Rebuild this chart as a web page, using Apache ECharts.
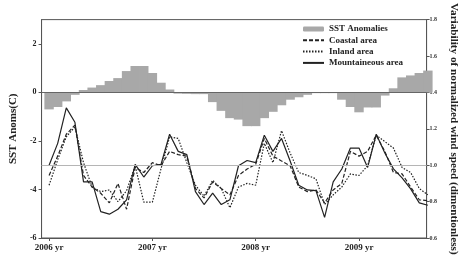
<!DOCTYPE html>
<html>
<head>
<meta charset="utf-8">
<script src="https://cdn.jsdelivr.net/npm/echarts@6/dist/echarts.min.js"></script>
<style>
  html, body { margin: 0; padding: 0; background: #fff; }
  #chart { width: 467px; height: 256px; }
</style>
</head>
<body>
<div id="chart"></div>
<script>
// month index from Jan 2006
const months = [0, 1, 2, 3, 4, 5, 6, 7, 8, 9, 10, 11, 12, 13, 14, 15, 16, 17, 18, 19, 20, 21, 22,
  23, 24, 25, 26, 27, 28, 29, 30, 31, 32, 33, 34, 35, 36, 37, 38, 39, 40, 41, 42, 43, 44]

const yearTicks = [0, 12, 24, 36]
const yearLabels = ['2006 yr', '2007 yr', '2008 yr', '2009 yr']
const sstTicks = [-6, -4, -2, 0, 2]
const windTicks = [0.6, 0.8, 1.0, 1.2, 1.4, 1.6, 1.8]

// SST anomalies (C), left axis
const sstAnoms = [-0.70, -0.60, -0.37, -0.10, 0.10, 0.20, 0.30, 0.47, 0.59, 0.88, 1.09, 1.09,
  0.80, 0.40, 0.12, -0.05, -0.06, -0.07, -0.07, -0.40, -0.76, -1.06, -1.12, -1.39,
  -1.39, -1.06, -0.80, -0.53, -0.30, -0.20, -0.10, -0.03, -0.03, -0.03, -0.30, -0.60,
  -0.82, -0.62, -0.62, -0.13, 0.17, 0.62, 0.70, 0.80, 0.90]

// normalized wind speed variability, right axis
const coastal = [0.944, 1.05, 1.17, 1.22, 0.944, 0.88, 0.846, 0.793, 0.90, 0.758, 0.988, 0.96,
  1.014, 0.997, 1.076, 1.058, 1.05, 0.872, 0.82, 0.908, 0.872, 0.837, 0.944, 0.979,
  1.005, 1.147, 1.05, 1.023, 0.997, 0.88, 0.855, 0.864, 0.793, 0.864, 0.90, 1.076,
  1.05, 1.076, 1.165, 1.076, 0.96, 0.952, 0.88, 0.81, 0.805]

const inland = [0.89, 1.03, 1.156, 1.21, 1.014, 0.88, 0.855, 0.864, 0.80, 0.86, 0.997, 0.797,
  0.797, 0.98, 1.156, 1.147, 1.014, 0.89, 0.83, 0.917, 0.872, 0.766, 0.88, 0.90,
  0.89, 1.12, 1.014, 1.19, 1.067, 0.96, 0.944, 0.925, 0.784, 0.837, 0.88, 0.952,
  0.944, 0.997, 1.165, 1.13, 1.094, 0.988, 0.96, 0.872, 0.837]

const mountain = [1.00, 1.12, 1.315, 1.236, 0.908, 0.908, 0.745, 0.731, 0.758, 0.81, 1.005, 0.935,
  0.997, 1.005, 1.17, 1.076, 1.058, 0.855, 0.784, 0.846, 0.784, 0.81, 0.997, 1.026,
  1.014, 1.165, 1.076, 1.147, 1.023, 0.89, 0.864, 0.86, 0.713, 0.908, 0.979, 1.094,
  1.094, 0.988, 1.17, 1.067, 0.98, 0.93, 0.87, 0.793, 0.78]

const serif = '"Liberation Serif", "DejaVu Serif", serif'
const axisColor = '#555'

const pair = (vals) => vals.map((v, i) => [months[i], v])

const chart = echarts.init(document.getElementById('chart'), null, { renderer: 'canvas' })

// 隐藏图例中折线的圆点
const lineLegend = (name) => ({ name, itemStyle: { opacity: 0 } })

const option = {
  animation: false,
  backgroundColor: '#fff',
  grid: { left: 29, right: 28, top: 12, bottom: 18, show: true, borderColor: axisColor, borderWidth: 1 },
  legend: {
    orient: 'vertical',
    left: 302,
    top: 24,
    padding: 0,
    itemWidth: 21,
    itemHeight: 5,
    itemGap: 1.3,
    textStyle: { fontFamily: serif, fontWeight: 'bold', fontSize: 9, color: '#222', lineHeight: 10 },
    data: [
      { name: 'SST Anomalies' },
      lineLegend('Coastal area'),
      lineLegend('Inland area'),
      lineLegend('Mountaineous area')
    ]
  },
  xAxis: {
    type: 'value',
    min: -0.873,
    max: 43.85,
    axisLine: { onZero: false, lineStyle: { color: axisColor } },
    axisTick: { length: 3, customValues: yearTicks, lineStyle: { color: axisColor } },
    axisLabel: {
      customValues: yearTicks,
      formatter: (v) => yearLabels[yearTicks.indexOf(v)],
      fontFamily: serif, fontWeight: 'bold', fontSize: 9, color: '#222', margin: 5
    },
    splitLine: { show: false }
  },
  yAxis: [
    {
      type: 'value',
      min: -6,
      max: 3,
      name: 'SST Anoms(C)',
      nameLocation: 'middle',
      nameGap: 17,
      nameTextStyle: { fontFamily: serif, fontWeight: 'bold', fontSize: 11, color: '#222' },
      axisLine: { show: true, onZero: false, lineStyle: { color: axisColor } },
      axisTick: { show: true, length: 3, customValues: sstTicks, lineStyle: { color: axisColor } },
      axisLabel: { customValues: sstTicks, fontFamily: serif, fontWeight: 'bold', fontSize: 8, color: '#222', margin: 5 },
      splitLine: { show: false }
    },
    {
      type: 'value',
      min: 0.6,
      max: 1.8,
      position: 'right',
      name: 'Variability of normalized wind speed (dimentionless)',
      nameLocation: 'middle',
      nameRotate: -90,
      nameGap: 19,
      nameTextStyle: { fontFamily: serif, fontWeight: 'bold', fontSize: 11.2, color: '#222' },
      axisLine: { show: true, onZero: false, lineStyle: { color: axisColor } },
      axisTick: { show: true, length: 3, customValues: windTicks, lineStyle: { color: axisColor } },
      axisLabel: {
        customValues: windTicks,
        formatter: (v) => v.toFixed(1),
        fontFamily: serif, fontWeight: 'bold', fontSize: 6, color: '#333', margin: 3
      },
      splitLine: { show: false }
    }
  ],
  series: [
    {
      name: 'SST Anomalies',
      type: 'bar',
      yAxisIndex: 0,
      barWidth: 9.4,
      itemStyle: { color: '#a8a8a8' },
      data: pair(sstAnoms),
      markLine: {
        silent: true,
        symbol: 'none',
        label: { show: false },
        lineStyle: { color: '#666', width: 1, type: 'solid' },
        data: [{ yAxis: 0 }]
      }
    },
    {
      name: 'Coastal area',
      type: 'line',
      yAxisIndex: 1,
      symbol: 'none',
      lineStyle: { color: '#222', width: 1.2, type: [4, 2] },
      itemStyle: { color: '#222' },
      data: pair(coastal),
      markLine: {
        silent: true,
        symbol: 'none',
        label: { show: false },
        lineStyle: { color: '#b5b5b5', width: 1, type: 'solid' },
        data: [{ yAxis: 1.0 }]
      }
    },
    {
      name: 'Inland area',
      type: 'line',
      yAxisIndex: 1,
      symbol: 'none',
      lineStyle: { color: '#222', width: 1.2, type: [1.5, 1.5] },
      itemStyle: { color: '#222' },
      data: pair(inland)
    },
    {
      name: 'Mountaineous area',
      type: 'line',
      yAxisIndex: 1,
      symbol: 'none',
      lineStyle: { color: '#222', width: 1.2 },
      itemStyle: { color: '#222' },
      data: pair(mountain)
    }
  ]
}

chart.setOption(option)
</script>
</body>
</html>
